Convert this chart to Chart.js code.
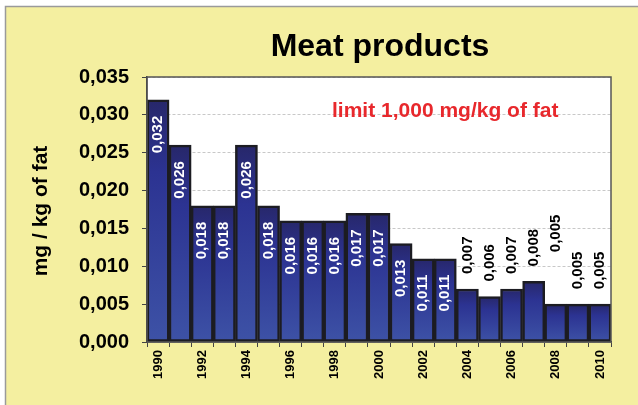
<!DOCTYPE html>
<html>
<head>
<meta charset="utf-8">
<script src="https://cdn.jsdelivr.net/npm/chart.js@4"></script>
<style>
  html, body { margin: 0; padding: 0; background: #fff; }
  #wrap { width: 638px; height: 405px; }
</style>
</head>
<body>
<div id="wrap"><canvas id="meatChart" width="638" height="405"></canvas></div>
<script>
// Chart data
const years = ['1990', '1991', '1992', '1993', '1994', '1995', '1996', '1997', '1998', '1999', '2000',
  '2001', '2002', '2003', '2004', '2005', '2006', '2007', '2008', '2009', '2010'];
const values = [0.032, 0.026, 0.018, 0.018, 0.026, 0.018, 0.016, 0.016, 0.016, 0.017, 0.017,
  0.013, 0.011, 0.011, 0.007, 0.006, 0.007, 0.008, 0.005, 0.005, 0.005];
const yTickValues = [0, 0.005, 0.010, 0.015, 0.020, 0.025, 0.030, 0.035];

const titleText = 'Meat products';
const noteText = 'limit 1,000 mg/kg of fat';
const yTitleText = 'mg / kg of fat';

const FONT = "'Liberation Sans', Arial, sans-serif";
const fmt = v => v.toFixed(3).replace('.', ',');

// Yellow frame, title and texts
const decorations = {
  id: 'decorations',
  beforeDraw(chart) {
    const ctx = chart.ctx;
    ctx.save();
    ctx.fillStyle = '#ffffff';
    ctx.fillRect(0, 0, chart.width, chart.height);
    ctx.fillStyle = '#f4efa0';
    ctx.fillRect(5, 6, chart.width - 5, chart.height - 6);
    ctx.strokeStyle = '#9a9a9a';
    ctx.lineWidth = 1.5;
    ctx.beginPath();
    ctx.moveTo(5.5, chart.height);
    ctx.lineTo(5.5, 6.5);
    ctx.lineTo(chart.width, 6.5);
    ctx.stroke();
    const a = chart.chartArea;
    ctx.fillStyle = '#ffffff';
    ctx.fillRect(a.left, a.top, a.right - a.left, a.bottom - a.top);
    ctx.restore();
  },
  afterDraw(chart) {
    const ctx = chart.ctx;
    const a = chart.chartArea;
    ctx.save();
    ctx.strokeStyle = '#555';
    ctx.lineWidth = 1.5;
    ctx.strokeRect(a.left, a.top, a.right - a.left, a.bottom - a.top);

    ctx.fillStyle = '#000';
    ctx.font = 'bold 32px ' + FONT;
    ctx.textAlign = 'center';
    ctx.textBaseline = 'alphabetic';
    ctx.fillText(titleText, 380, 56);

    ctx.fillStyle = '#e8282c';
    ctx.font = 'bold 21px ' + FONT;
    ctx.textAlign = 'left';
    ctx.fillText(noteText, 332, 117);

    ctx.fillStyle = '#000';
    ctx.font = 'bold 21px ' + FONT;
    ctx.translate(47, 211);
    ctx.rotate(-Math.PI / 2);
    ctx.textAlign = 'center';
    ctx.fillText(yTitleText, 0, 0);
    ctx.restore();
  }
};

// Vertical value labels on the bars
const barLabels = {
  id: 'barLabels',
  afterDatasetsDraw(chart) {
    const ctx = chart.ctx;
    const meta = chart.getDatasetMeta(0);
    const lift = { 18: 37 }; // 2008 label sits higher in the original
    ctx.save();
    ctx.font = 'bold 15px ' + FONT;
    ctx.textBaseline = 'middle';
    meta.data.forEach((bar, i) => {
      const v = values[i];
      ctx.save();
      if (v >= 0.01) {
        ctx.fillStyle = '#ffffff';
        ctx.translate(bar.x, bar.y + 16);
        ctx.rotate(-Math.PI / 2);
        ctx.textAlign = 'right';
      } else {
        ctx.fillStyle = '#000000';
        ctx.translate(bar.x, bar.y - 15 - (lift[i] || 0));
        ctx.rotate(-Math.PI / 2);
        ctx.textAlign = 'left';
      }
      ctx.fillText(fmt(v), 0, 0);
      ctx.restore();
    });
    ctx.restore();
  }
};

function barGradient(context) {
  const chart = context.chart;
  const ys = chart.scales.y;
  if (!ys || context.type !== 'data') return '#2c3490';
  const top = ys.getPixelForValue(context.raw);
  const base = ys.getPixelForValue(0);
  if (!isFinite(top) || !isFinite(base) || base <= top) return '#2c3490';
  const g = chart.ctx.createLinearGradient(0, top, 0, base);
  g.addColorStop(0, '#27276a');
  g.addColorStop(0.3, '#2c3392');
  g.addColorStop(1, '#3d52a6');
  return g;
}

const ctx = document.getElementById('meatChart').getContext('2d');
new Chart(ctx, {
  type: 'bar',
  data: {
    labels: years,
    datasets: [{
      data: values,
      backgroundColor: barGradient,
      borderColor: '#1c1c22',
      borderWidth: 2.5,
      borderSkipped: false,
      barPercentage: 1,
      categoryPercentage: 1
    }]
  },
  options: {
    responsive: false,
    animation: false,
    events: [],
    layout: { padding: { top: 77, right: 27, left: 0, bottom: 0 } },
    plugins: {
      legend: { display: false },
      title: { display: false },
      tooltip: { enabled: false }
    },
    scales: {
      x: {
        afterFit: s => { s.height = 63; },
        grid: { display: true, drawOnChartArea: false, drawTicks: true, tickLength: 5, color: '#444', offset: true },
        border: { color: '#333', width: 1.5 },
        ticks: {
          autoSkip: false,
          maxRotation: 90,
          minRotation: 90,
          padding: 3,
          color: '#000',
          font: { family: FONT, size: 13, weight: 'bold' },
          callback: (val, i) => (i % 2 === 0 ? years[i] : '')
        }
      },
      y: {
        min: 0,
        max: 0.035,
        afterFit: s => { s.width = 147; },
        afterBuildTicks: s => { s.ticks = yTickValues.map(v => ({ value: v })); },
        grid: { color: '#c8c8c8', tickColor: '#444', tickLength: 5, lineWidth: 1 },
        border: { color: '#333', width: 1.5, dash: [3, 2] },
        ticks: {
          padding: 13,
          color: '#000',
          font: { family: FONT, size: 20, weight: 'bold' },
          callback: v => fmt(v)
        }
      }
    }
  },
  plugins: [decorations, barLabels]
});
</script>
</body>
</html>
